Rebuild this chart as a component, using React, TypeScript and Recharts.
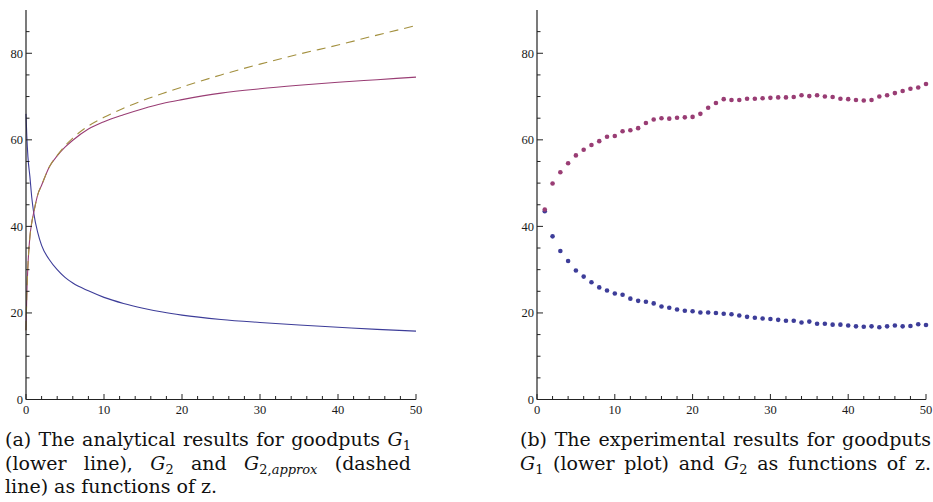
import React from "react";
import { LineChart, Line, XAxis, YAxis, ScatterChart, Scatter } from "recharts";

// analytical curves (a)
const zAna = [0, 0.1, 0.25, 0.5, 0.75, 1, 1.5, 2, 3, 4, 5, 6, 8, 10, 12.5, 15, 17.5, 20, 25, 30, 35, 40, 45, 50];
const g1Ana = [66, 61, 56, 51.5, 46.5, 43, 38.6, 35.6, 32.3, 30.0, 28.2, 26.9, 25.1, 23.6, 22.2, 21.1, 20.2, 19.5, 18.5, 17.8, 17.2, 16.7, 16.2, 15.8];
const g2Ana = [16, 24, 31, 37.6, 41, 43.3, 47.3, 49.5, 53.8, 56.3, 58.3, 59.9, 62.5, 64.2, 65.8, 67.2, 68.4, 69.3, 70.8, 71.8, 72.6, 73.3, 73.9, 74.5];
const g2Approx = [16, 24, 31, 37.6, 41, 43.3, 47.3, 49.5, 53.8, 56.4, 58.6, 60.4, 63.2, 65.2, 67.3, 69.1, 70.7, 72.2, 75.0, 77.5, 79.8, 81.9, 84.2, 86.4];

// experimental points (b)
const zExp = [1, 2, 3, 4, 5, 6, 7, 8, 9, 10, 11, 12, 13, 14, 15, 16, 17, 18, 19, 20, 21, 22, 23, 24, 25, 26, 27, 28, 29, 30, 31, 32, 33, 34, 35, 36, 37, 38, 39, 40, 41, 42, 43, 44, 45, 46, 47, 48, 49, 50];
const g1Exp = [43.5, 37.7, 34.3, 32.0, 29.8, 28.4, 27.1, 25.9, 25.2, 24.5, 24.2, 23.3, 22.8, 22.6, 22.2, 21.5, 21.2, 20.8, 20.5, 20.4, 20.1, 20.1, 20.0, 19.8, 19.7, 19.4, 19.1, 18.9, 18.7, 18.6, 18.4, 18.2, 18.2, 17.8, 18.0, 17.5, 17.5, 17.3, 17.3, 17.1, 16.9, 16.8, 16.9, 16.7, 16.9, 17.1, 16.9, 17.0, 17.4, 17.2];
const g2Exp = [43.9, 49.9, 52.5, 54.6, 56.4, 57.7, 58.8, 59.7, 60.7, 60.9, 62.0, 62.2, 62.7, 63.9, 64.7, 65.0, 64.9, 65.1, 65.2, 65.3, 66.0, 67.4, 68.5, 69.4, 69.2, 69.2, 69.5, 69.5, 69.6, 69.7, 69.8, 69.8, 69.9, 70.3, 70.1, 70.3, 70.0, 69.9, 69.5, 69.4, 69.2, 69.1, 69.2, 70.0, 70.3, 70.8, 71.3, 71.8, 72.1, 72.9];

// ticks
const xTicks = [0, 2, 4, 6, 8, 10, 12, 14, 16, 18, 20, 22, 24, 26, 28, 30, 32, 34, 36, 38, 40, 42, 44, 46, 48, 50];
const yTicks = [0, 5, 10, 15, 20, 25, 30, 35, 40, 45, 50, 55, 60, 65, 70, 75, 80, 85];

const BLUE = "#3d3d99";
const RED = "#993d74";
const OLIVE = "#a3903f";
const AXIS = "#222";
const tickFont = { fontFamily: "Liberation Serif", fontSize: 12.5, fill: "#1a1a1a" };

const anaRows = zAna.map((z, i) => ({ z, g1: g1Ana[i], g2: g2Ana[i], g2a: g2Approx[i] }));
const g1Rows = zExp.map((z, i) => ({ z, v: g1Exp[i] }));
const g2Rows = zExp.map((z, i) => ({ z, v: g2Exp[i] }));

// inward ticks, labels only on the major ones
const YTick = (props: any) => {
  const { x, y, payload } = props;
  const major = payload.value % 20 === 0;
  return (
    <g>
      <line x1={x} x2={x + (major ? 6 : 3.5)} y1={y} y2={y} stroke={AXIS} strokeWidth={1} />
      {major && (
        <text x={x - 3} y={y + 4.5} textAnchor="end" style={tickFont}>
          {payload.value}
        </text>
      )}
    </g>
  );
};

const XTick = (props: any) => {
  const { x, y, payload } = props;
  const major = payload.value % 10 === 0;
  return (
    <g>
      <line x1={x} x2={x} y1={y} y2={y - (major ? 5.5 : 3.5)} stroke={AXIS} strokeWidth={1} />
      {major && (
        <text x={x} y={y + 14.5} textAnchor="middle" style={tickFont}>
          {payload.value}
        </text>
      )}
    </g>
  );
};

const Dot = (color: string) => (props: any) => (
  <circle cx={props.cx} cy={props.cy} r={2.3} fill={color} />
);

const axisProps = {
  axisLine: { stroke: AXIS, strokeWidth: 1.2 },
  tickLine: false,
  tickSize: 0,
  tickMargin: 0,
  interval: 0 as const,
};

const capStyle: React.CSSProperties = {
  position: "absolute",
  fontFamily: "DejaVu Serif",
  fontSize: 19,
  lineHeight: "23.5px",
  color: "#111",
};
const justified: React.CSSProperties = { textAlign: "justify", textAlignLast: "justify" };
const sub: React.CSSProperties = { fontSize: 13, verticalAlign: "-4px", lineHeight: 0 };
const math: React.CSSProperties = { fontFamily: "DejaVu Serif", fontStyle: "italic" };

export default function App() {
  return (
    <div style={{ position: "absolute", left: 0, top: 0, width: 933, height: 502, background: "#fff", overflow: "hidden" }}>
      {/* (a) analytical */}
      <div style={{ position: "absolute", left: 0, top: 0 }}>
        <LineChart width={440} height={425} data={anaRows} margin={{ top: 10, left: 0, right: 24, bottom: 0 }}>
          <XAxis dataKey="z" type="number" domain={[0, 50]} ticks={xTicks} height={25.5} tick={<XTick />} {...axisProps} />
          <YAxis type="number" domain={[0, 90]} ticks={yTicks} width={26} tick={<YTick />} {...axisProps} />
          <Line dataKey="g1" type="monotone" stroke={BLUE} strokeWidth={1.1} dot={false} isAnimationActive={false} />
          <Line dataKey="g2" type="monotone" stroke={RED} strokeWidth={1.1} dot={false} isAnimationActive={false} />
          <Line dataKey="g2a" type="monotone" stroke={OLIVE} strokeWidth={1.1} strokeDasharray="9 6" dot={false} isAnimationActive={false} />
        </LineChart>
      </div>

      {/* (b) experimental */}
      <div style={{ position: "absolute", left: 500, top: 0 }}>
        <ScatterChart width={433} height={425} margin={{ top: 10, left: 0, right: 7, bottom: 0 }}>
          <XAxis dataKey="z" type="number" domain={[0, 50]} ticks={xTicks} height={25.5} tick={<XTick />} {...axisProps} />
          <YAxis dataKey="v" type="number" domain={[0, 90]} ticks={yTicks} width={37} tick={<YTick />} {...axisProps} />
          <Scatter data={g1Rows} fill={BLUE} shape={Dot(BLUE)} isAnimationActive={false} />
          <Scatter data={g2Rows} fill={RED} shape={Dot(RED)} isAnimationActive={false} />
        </ScatterChart>
      </div>

      {/* captions */}
      <div style={{ ...capStyle, left: 5, top: 428, width: 406 }}>
        <div style={justified}>
          (a) The analytical results for goodputs <i style={math}>G</i><span style={sub}>1</span>
        </div>
        <div style={justified}>
          (lower line), <i style={math}>G</i><span style={sub}>2</span> and <i style={math}>G</i>
          <span style={sub}>
            2,<i>approx</i>
          </span>{" "}
          (dashed
        </div>
        <div>line) as functions of z.</div>
      </div>
      <div style={{ ...capStyle, left: 520, top: 428, width: 411 }}>
        <div style={justified}>(b) The experimental results for goodputs</div>
        <div style={justified}>
          <i style={math}>G</i><span style={sub}>1</span> (lower plot) and <i style={math}>G</i><span style={sub}>2</span> as functions of z.
        </div>
      </div>
    </div>
  );
}
